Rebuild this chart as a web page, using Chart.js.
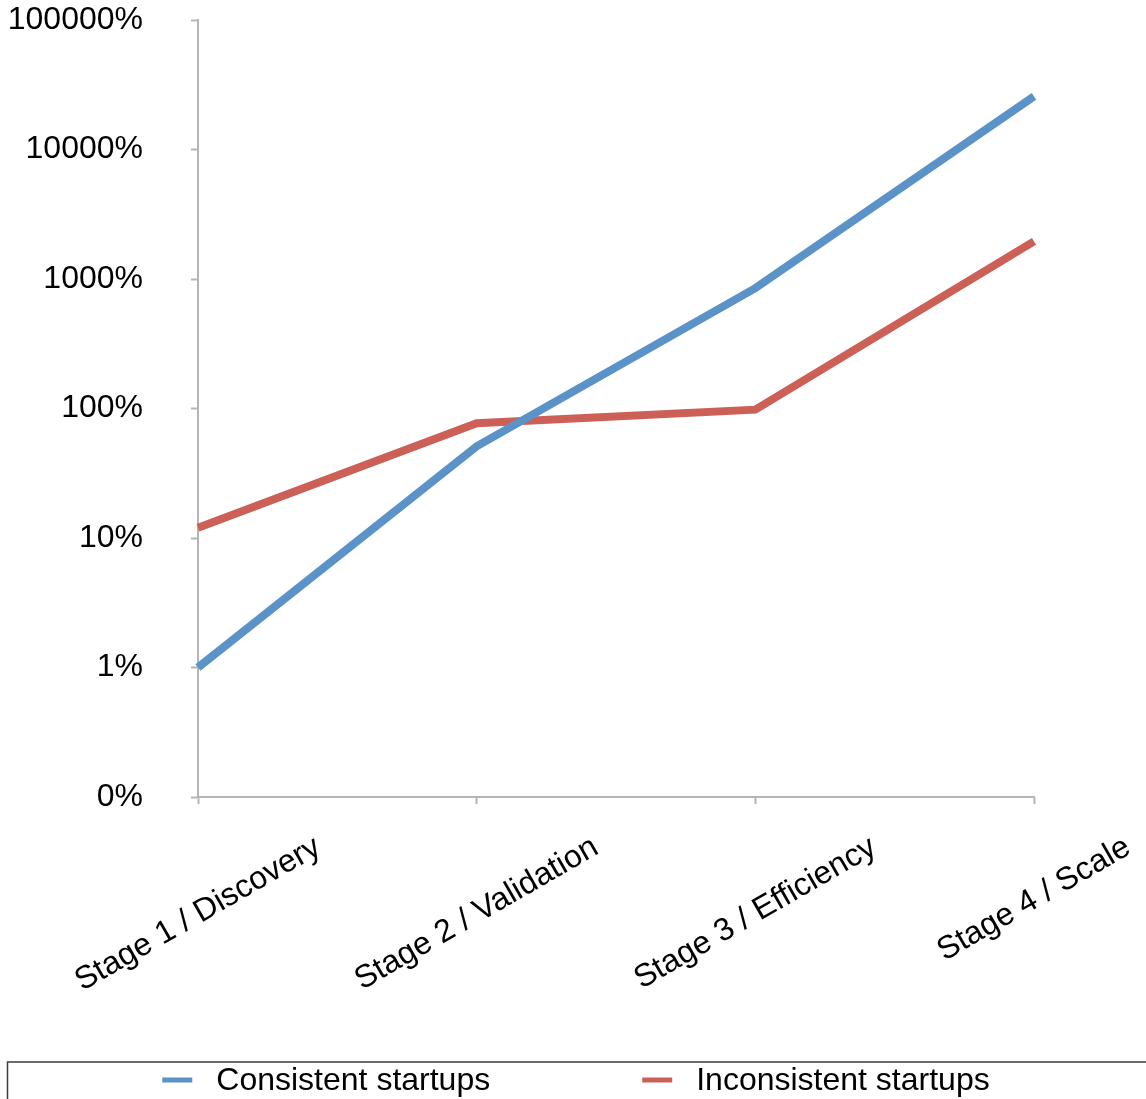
<!DOCTYPE html>
<html>
<head>
<meta charset="utf-8">
<script src="https://cdn.jsdelivr.net/npm/chart.js@4/dist/chart.umd.min.js"></script>
<style>
  html, body { margin: 0; padding: 0; background: #ffffff; }
  #wrap { width: 1146px; height: 1099px; position: relative; }
</style>
</head>
<body>
<div id="wrap"><canvas id="c" width="1146" height="1099"></canvas></div>
<script>
const categories = ['Stage 1 / Discovery', 'Stage 2 / Validation', 'Stage 3 / Efficiency', 'Stage 4 / Scale'];
const consistentValues = [1, 51, 850, 25700];
const inconsistentValues = [12, 77, 98, 1950];
const yTickValues = [0.1, 1, 10, 100, 1000, 10000, 100000];
const yTickLabels = ['0%', '1%', '10%', '100%', '1000%', '10000%', '100000%'];
const seriesNames = ['Consistent startups', 'Inconsistent startups'];
const seriesColors = ['#5B93C8', '#CC6057'];

const FONT = '"Liberation Sans", Arial, Helvetica, sans-serif';
const AXIS = '#b5b5b5';

const customDraw = {
  id: 'customDraw',
  afterDraw(chart) {
    const ctx = chart.ctx;
    const xs = chart.scales.x;
    ctx.save();
    ctx.font = '32px ' + FONT;
    ctx.fillStyle = '#000';
    ctx.textAlign = 'center';
    ctx.textBaseline = 'middle';
    const ang = 30 * Math.PI / 180;
    chart.data.labels.forEach((lab, i) => {
      const x = xs.getPixelForTick(i);
      const w = ctx.measureText(lab).width;
      const cy = xs.top + 38 + w * Math.sin(ang) / 2 + 10;
      ctx.save();
      ctx.translate(x, cy);
      ctx.rotate(-ang);
      ctx.fillText(lab, 0, 0);
      ctx.restore();
    });
    ctx.restore();

    ctx.save();
    const top = 1062;
    ctx.strokeStyle = '#3c3c3c';
    ctx.lineWidth = 1.5;
    ctx.beginPath();
    ctx.moveTo(1160, top);
    ctx.lineTo(7.5, top);
    ctx.lineTo(7.5, 1110);
    ctx.stroke();
    ctx.font = '32px ' + FONT;
    ctx.textBaseline = 'middle';
    ctx.textAlign = 'left';
    const ds = chart.data.datasets;
    const lineW = 30, gapT = 24, gapItems = 152;
    const widths = ds.map(d => lineW + gapT + ctx.measureText(d.label).width);
    const total = widths.reduce((a, b) => a + b, 0) + gapItems * (ds.length - 1);
    let x = 576 - total / 2;
    const cy = 1080;
    ds.forEach((d, i) => {
      ctx.fillStyle = d.borderColor;
      ctx.fillRect(x, cy - 2.5, lineW, 5);
      ctx.fillStyle = '#000';
      ctx.fillText(d.label, x + lineW + gapT, cy + 1);
      x += widths[i] + gapItems;
    });
    ctx.restore();
  }
};

new Chart(document.getElementById('c'), {
  type: 'line',
  data: {
    labels: categories,
    datasets: [
      { label: seriesNames[0], data: consistentValues, borderColor: seriesColors[0], backgroundColor: seriesColors[0],
        borderWidth: 8, pointRadius: 0, tension: 0, borderCapStyle: 'butt', borderJoinStyle: 'miter', fill: false },
      { label: seriesNames[1], data: inconsistentValues, borderColor: seriesColors[1], backgroundColor: seriesColors[1],
        borderWidth: 8, pointRadius: 0, tension: 0, borderCapStyle: 'butt', borderJoinStyle: 'miter', fill: false }
    ]
  },
  options: {
    responsive: false,
    animation: false,
    events: [],
    layout: { padding: { top: 20, right: 112, bottom: 0, left: 0 } },
    plugins: { legend: { display: false }, tooltip: { enabled: false }, title: { display: false } },
    scales: {
      x: {
        type: 'category',
        offset: false,
        grid: { display: true, drawOnChartArea: false, drawTicks: true, tickLength: 7, tickWidth: 2, color: AXIS },
        border: { display: true, color: AXIS, width: 2 },
        ticks: { display: false },
        afterFit(scale) { scale.height = 302; scale.paddingLeft = 0; scale.paddingRight = 0; }
      },
      y: {
        type: 'logarithmic',
        min: 0.1,
        max: 100000,
        grid: { display: true, drawOnChartArea: false, drawTicks: true, tickLength: 7, tickWidth: 2, color: AXIS },
        border: { display: true, color: AXIS, width: 2 },
        afterBuildTicks(scale) { scale.ticks = yTickValues.map(v => ({ value: v })); },
        ticks: {
          autoSkip: false,
          padding: 48,
          color: '#000',
          font: { family: FONT, size: 32 },
          callback(value) { const i = yTickValues.indexOf(value); return i >= 0 ? yTickLabels[i] : ''; }
        },
        afterFit(scale) { scale.width = 198; scale.paddingTop = 0; scale.paddingBottom = 0; }
      }
    }
  },
  plugins: [customDraw]
});
</script>
</body>
</html>
